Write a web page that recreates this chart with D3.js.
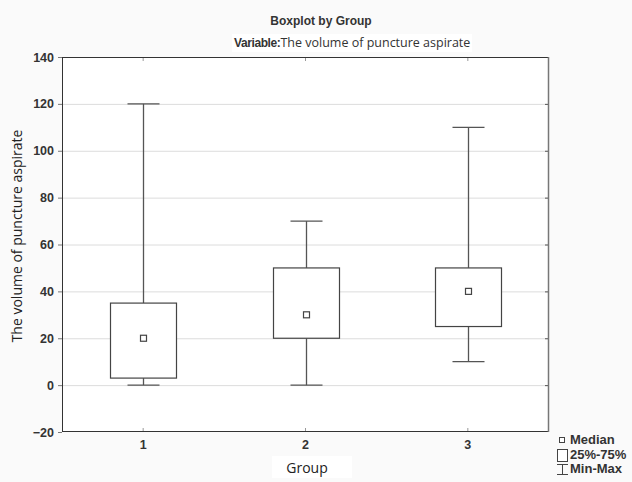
<!DOCTYPE html>
<html>
<head>
<meta charset="utf-8">
<script src="https://cdn.jsdelivr.net/npm/d3@7"></script>
<style>
  body { margin: 0; background: #fafafa; }
  svg { display: block; }
</style>
</head>
<body>
<svg id="chart" width="632" height="482"></svg>
<script>
// Boxplot data
const groups = ["1", "2", "3"];
const mins = [0, 0, 10];
const q1s = [3, 20, 25];
const medians = [20, 30, 40];
const q3s = [35, 50, 50];
const maxs = [120, 70, 110];
const yTicks = [-20, 0, 20, 40, 60, 80, 100, 120, 140];

const width = 632, height = 482;
const margin = { top: 57, right: 83, bottom: 50, left: 62 };
const innerW = width - margin.left - margin.right;
const innerH = height - margin.top - margin.bottom;

const svg = d3.select("#chart");
svg.append("rect").attr("width", width).attr("height", height).attr("fill", "#fafafa");

const g = svg.append("g").attr("transform", `translate(${margin.left},${margin.top})`);

const x = d3.scaleBand().domain(groups).range([0, innerW]);
const y = d3.scaleLinear().domain([-20, 140]).range([innerH, 0]);

// plot background
g.append("rect").attr("width", innerW).attr("height", innerH).attr("fill", "#fff");

// grid
g.selectAll(".grid")
  .data(yTicks.slice(1, -1))
  .enter().append("line")
  .attr("x1", 0).attr("x2", innerW)
  .attr("y1", d => y(d) + 0.5).attr("y2", d => y(d) + 0.5)
  .attr("stroke", "#dcdcdc");

// axes
const yAxis = g.append("g")
  .call(d3.axisLeft(y).tickValues(yTicks).tickSize(4).tickSizeOuter(0));
yAxis.select(".domain").remove();
yAxis.selectAll("line").attr("stroke", "#777");
yAxis.selectAll("text")
  .attr("font-family", "Liberation Sans, Arial, sans-serif")
  .attr("font-weight", "bold")
  .attr("font-size", 12.5)
  .attr("fill", "#333")
  .attr("x", -8);

const xAxis = g.append("g")
  .attr("transform", `translate(0,${innerH})`)
  .call(d3.axisBottom(x).tickSize(-4).tickSizeOuter(0));
xAxis.select(".domain").remove();
xAxis.selectAll("line").attr("stroke", "#999");
xAxis.selectAll("text")
  .attr("font-family", "Liberation Sans, Arial, sans-serif")
  .attr("font-weight", "bold")
  .attr("font-size", 12.5)
  .attr("fill", "#333")
  .attr("y", 8);

// top ticks
g.selectAll(".ttick")
  .data(groups)
  .enter().append("line")
  .attr("x1", d => x(d) + x.bandwidth() / 2).attr("x2", d => x(d) + x.bandwidth() / 2)
  .attr("y1", 0).attr("y2", 4)
  .attr("stroke", "#999");

// right ticks
g.selectAll(".rtick")
  .data(yTicks.slice(1, -1))
  .enter().append("line")
  .attr("x1", innerW - 4).attr("x2", innerW)
  .attr("y1", d => y(d) + 0.5).attr("y2", d => y(d) + 0.5)
  .attr("stroke", "#555");

// frame
g.append("rect")
  .attr("x", 0.5).attr("y", 0.5)
  .attr("width", innerW - 1).attr("height", innerH - 1)
  .attr("fill", "none")
  .attr("stroke", "#333");
g.append("line")
  .attr("x1", innerW - 0.5).attr("x2", innerW - 0.5)
  .attr("y1", 0).attr("y2", innerH)
  .attr("stroke", "#777").attr("stroke-width", 1.5);

// boxes
const boxW = 66, capW = 32, medS = 6;
const data = groups.map((k, i) => ({
  key: k, min: mins[i], q1: q1s[i], med: medians[i], q3: q3s[i], max: maxs[i]
}));

const box = g.selectAll(".box")
  .data(data)
  .enter().append("g")
  .attr("class", "box")
  .attr("transform", d => `translate(${Math.round(x(d.key) + x.bandwidth() / 2) + 0.5},0)`);

// whiskers
box.append("line")
  .attr("y1", d => y(d.max)).attr("y2", d => y(d.q3))
  .attr("stroke", "#555").attr("stroke-width", 1.3);
box.append("line")
  .attr("y1", d => y(d.q1)).attr("y2", d => y(d.min))
  .attr("stroke", "#555").attr("stroke-width", 1.3);
box.append("line")
  .attr("x1", -capW / 2).attr("x2", capW / 2)
  .attr("y1", d => y(d.max)).attr("y2", d => y(d.max))
  .attr("stroke", "#555").attr("stroke-width", 1.3);
box.append("line")
  .attr("x1", -capW / 2).attr("x2", capW / 2)
  .attr("y1", d => y(d.min)).attr("y2", d => y(d.min))
  .attr("stroke", "#555").attr("stroke-width", 1.3);

box.append("rect")
  .attr("x", -boxW / 2)
  .attr("y", d => y(d.q3))
  .attr("width", boxW)
  .attr("height", d => y(d.q1) - y(d.q3))
  .attr("fill", "#fff")
  .attr("stroke", "#444")
  .attr("stroke-width", 1.2);

box.append("rect")
  .attr("x", -medS / 2)
  .attr("y", d => y(d.med) - medS / 2)
  .attr("width", medS).attr("height", medS)
  .attr("fill", "#fff")
  .attr("stroke", "#444")
  .attr("stroke-width", 1.2);

// titles
svg.append("text")
  .attr("x", 321).attr("y", 25)
  .attr("text-anchor", "middle")
  .attr("font-family", "Liberation Sans, Arial, sans-serif")
  .attr("font-weight", "bold")
  .attr("font-size", 12)
  .attr("fill", "#333")
  .text("Boxplot by Group");

// white patch behind the subtitle, as in the original
svg.append("rect")
  .attr("x", 232).attr("y", 34).attr("width", 240).attr("height", 18)
  .attr("fill", "#fff");
const sub = svg.append("text")
  .attr("x", 234).attr("y", 47)
  .attr("fill", "#333");
sub.append("tspan")
  .attr("font-family", "Liberation Sans, Arial, sans-serif")
  .attr("font-weight", "bold")
  .attr("font-size", 12)
  .attr("letter-spacing", -0.4)
  .text("Variable:");
sub.append("tspan")
  .attr("font-family", "Open Sans, sans-serif")
  .attr("font-size", 12.5)
  .text("The volume of puncture aspirate");

svg.append("text")
  .attr("transform", `translate(22,${236}) rotate(-90)`)
  .attr("text-anchor", "middle")
  .attr("font-family", "Open Sans, sans-serif")
  .attr("font-size", 14)
  .attr("fill", "#222")
  .text("The volume of puncture aspirate");

svg.append("rect")
  .attr("x", 272).attr("y", 456).attr("width", 80).attr("height", 22)
  .attr("fill", "#fff");
svg.append("text")
  .attr("x", 307).attr("y", 473)
  .attr("text-anchor", "middle")
  .attr("font-family", "Open Sans, sans-serif")
  .attr("font-size", 14)
  .attr("fill", "#222")
  .text("Group");

// legend
const lg = svg.append("g").attr("transform", "translate(557,432)");
const legFont = "Liberation Sans, Arial, sans-serif";
lg.append("rect").attr("x", 2.5).attr("y", 5.5).attr("width", 5).attr("height", 5)
  .attr("fill", "#fff").attr("stroke", "#444");
lg.append("rect").attr("x", 0.5).attr("y", 17.5).attr("width", 10).attr("height", 12)
  .attr("fill", "#fff").attr("stroke", "#444");
lg.append("line").attr("x1", 5.5).attr("x2", 5.5).attr("y1", 32).attr("y2", 43).attr("stroke", "#444");
lg.append("line").attr("x1", 0).attr("x2", 11).attr("y1", 32.5).attr("y2", 32.5).attr("stroke", "#444");
lg.append("line").attr("x1", 0).attr("x2", 11).attr("y1", 42.5).attr("y2", 42.5).attr("stroke", "#444");
[["Median", 12], ["25%-75%", 27], ["Min-Max", 41]].forEach(([t, yy]) => {
  lg.append("text").attr("x", 13).attr("y", yy)
    .attr("font-family", legFont).attr("font-weight", "bold")
    .attr("font-size", 13).attr("fill", "#333").text(t);
});
</script>
</body>
</html>
